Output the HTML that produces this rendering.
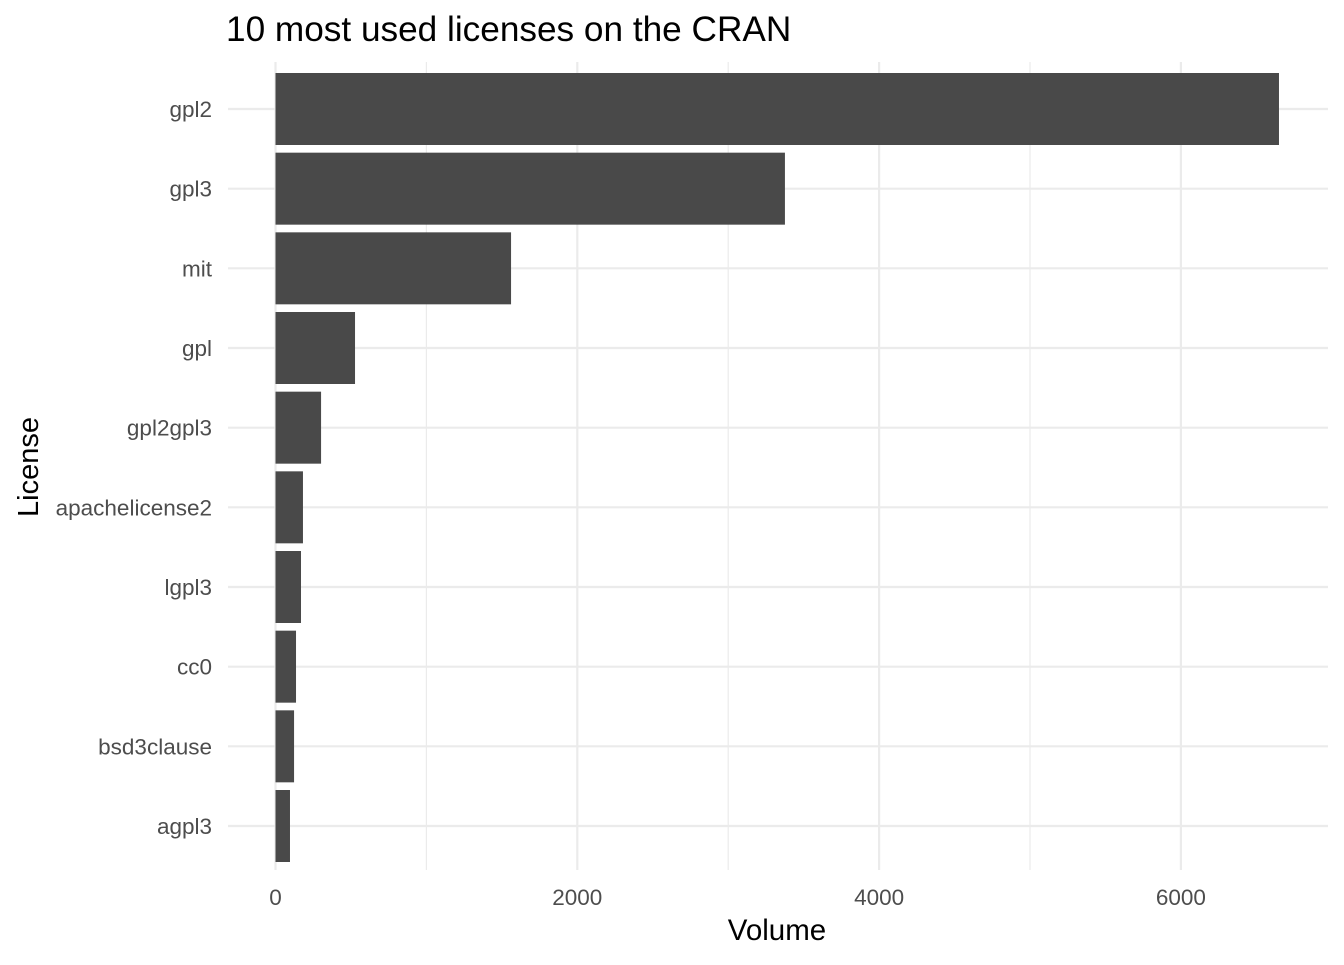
<!DOCTYPE html>
<html><head><meta charset="utf-8"><style>
body{margin:0;background:#fff;}
svg text{font-family:"Liberation Sans",Arial,sans-serif;}
</style></head><body>
<svg id="chart" width="1344" height="960" viewBox="0 0 1344 960" xmlns="http://www.w3.org/2000/svg">
<text x="226" y="41" font-size="35.2" fill="#000">10 most used licenses on the CRAN</text>
<g id="grid"></g>
<g id="bars"></g>
<g id="yticks"></g>
<g id="xticks"></g>
<text x="777" y="940" font-size="29.5" text-anchor="middle" fill="#000">Volume</text>
<text transform="translate(38,467) rotate(-90)" font-size="29" text-anchor="middle" fill="#000">License</text>
</svg>
<script>
const categories=["gpl2","gpl3","mit","gpl","gpl2gpl3","apachelicense2","lgpl3","cc0","bsd3clause","agpl3"];
const volumes=[6650,3376,1561,527,302,182,169,136,123,96];
const majorTicks=[0,2000,4000,6000];
const minorTicks=[1000,3000,5000];
const NS="http://www.w3.org/2000/svg";
const X0=275.5, X_PER_UNIT=0.1509;
const xs=v=>X0+v*X_PER_UNIT;
const Y_TOP=109, Y_STEP=(826-109)/9, BAR_H=72;
const ys=i=>Y_TOP+i*Y_STEP;
const P_LEFT=228,P_RIGHT=1328,P_TOP=62,P_BOTTOM=870;
function mk(tag,attrs,parent){const e=document.createElementNS(NS,tag);for(const k in attrs)e.setAttribute(k,attrs[k]);parent.appendChild(e);return e;}
const gridG=document.getElementById('grid'),barsG=document.getElementById('bars'),ytG=document.getElementById('yticks'),xtG=document.getElementById('xticks');
minorTicks.forEach(v=>{const l=mk('line',{x1:xs(v),x2:xs(v),y1:P_TOP,y2:P_BOTTOM,stroke:'#ebebeb','stroke-width':1.2},gridG);

});
majorTicks.forEach(v=>{const l=mk('line',{x1:xs(v),x2:xs(v),y1:P_TOP,y2:P_BOTTOM,stroke:'#ebebeb','stroke-width':2.2},gridG);


const t=mk('text',{x:xs(v),y:905,'font-size':22.5,'text-anchor':'middle',fill:'#4d4d4d'},xtG);t.textContent=v;

});
categories.forEach((c,i)=>{const l=mk('line',{x1:P_LEFT,x2:P_RIGHT,y1:ys(i),y2:ys(i),stroke:'#ebebeb','stroke-width':2.2},gridG);


const t=mk('text',{x:212,y:ys(i)+8,'font-size':22.5,'text-anchor':'end',fill:'#4d4d4d'},ytG);t.textContent=c;


const r=mk('rect',{x:xs(0),y:ys(i)-BAR_H/2,width:xs(volumes[i])-xs(0),height:BAR_H,fill:'#494949'},barsG);

});
</script>
</body></html>
